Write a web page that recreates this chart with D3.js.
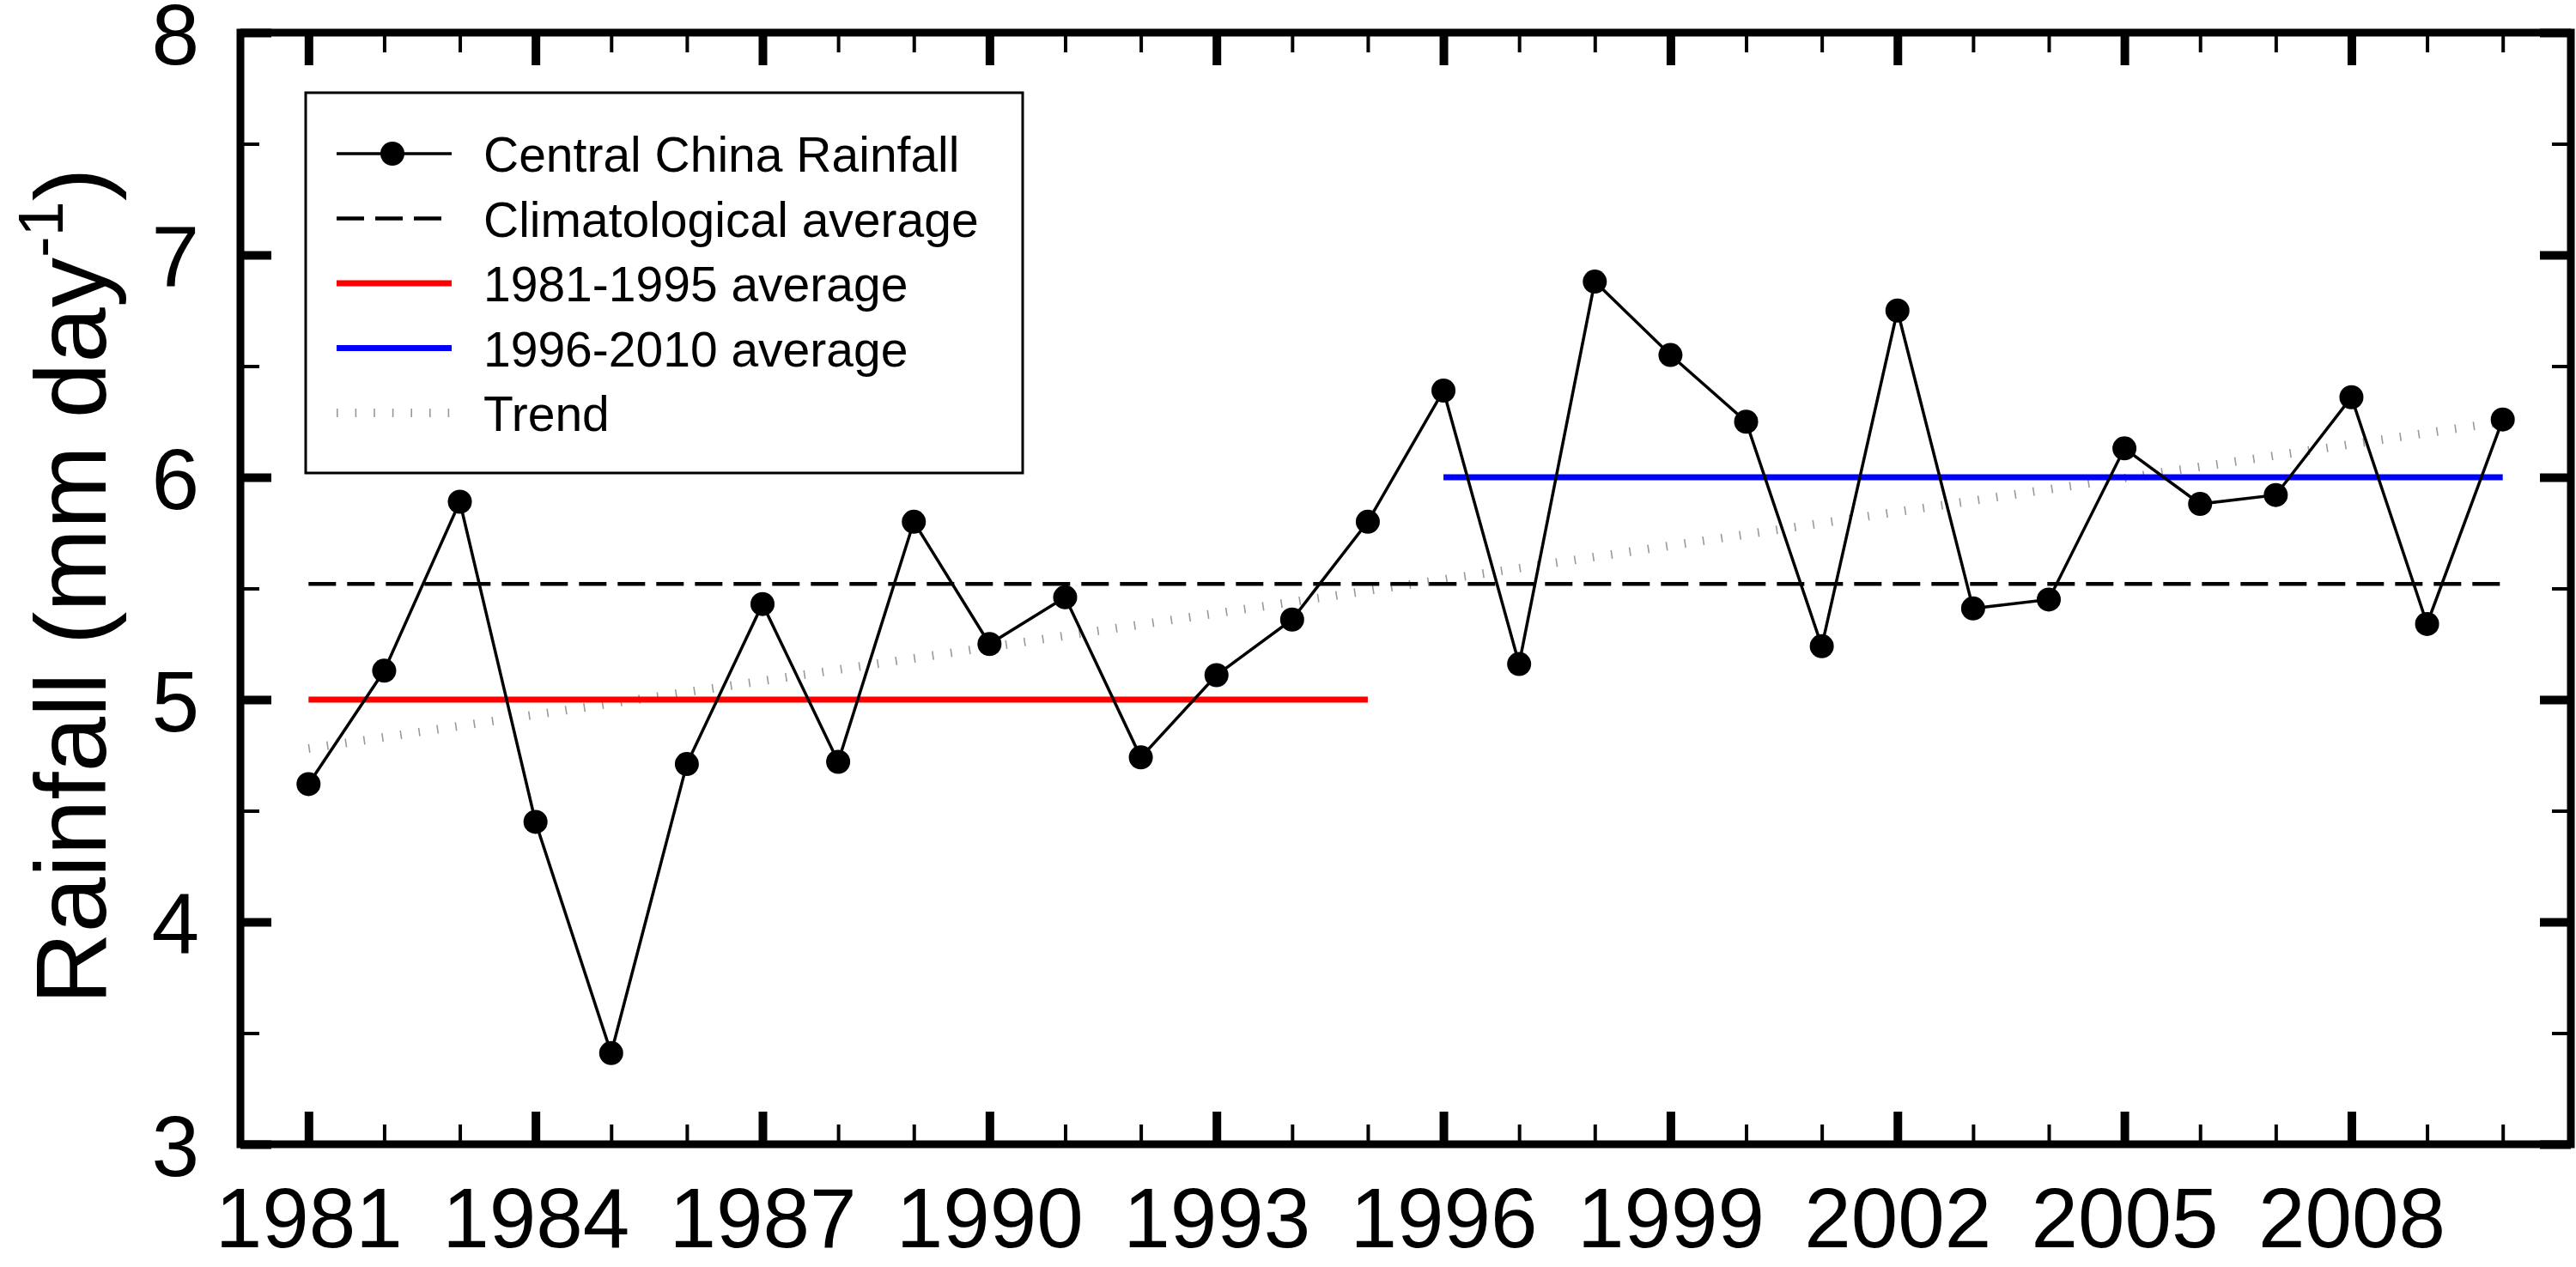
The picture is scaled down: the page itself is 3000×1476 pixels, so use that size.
<!DOCTYPE html>
<html>
<head>
<meta charset="utf-8">
<script src="https://cdn.jsdelivr.net/npm/d3@7"></script>
<style>
  body { margin: 0; background: #fff; }
  text { font-family: "Liberation Sans", Arial, sans-serif; fill: #000; }
</style>
</head>
<body>
<svg id="chart"></svg>
<script>
const YEARS = [1981, 1982, 1983, 1984, 1985, 1986, 1987, 1988, 1989, 1990,
    1991, 1992, 1993, 1994, 1995, 1996, 1997, 1998, 1999, 2000,
    2001, 2002, 2003, 2004, 2005, 2006, 2007, 2008, 2009, 2010];

const RAINFALL = [4.62, 5.13, 5.89, 4.45, 3.41, 4.71, 5.43, 4.72, 5.80, 5.25,
    5.46, 4.74, 5.11, 5.36, 5.80, 6.39, 5.16, 6.88, 6.55, 6.25,
    5.24, 6.75, 5.41, 5.45, 6.13, 5.88, 5.92, 6.36, 5.34, 6.26];

const CLIM_YEARS = [1981, 2010];
const CLIM_AVG = [5.52, 5.52];
const EARLY_YEARS = [1981, 1995];
const EARLY_AVG = [5.0, 5.0];
const LATE_YEARS = [1996, 2010];
const LATE_AVG = [6.0, 6.0];
const TREND_YEARS = [1981, 2010];
const TREND = [4.78, 6.25];

const X_LABELS = [1981, 1984, 1987, 1990, 1993, 1996, 1999, 2002, 2005, 2008];
const X_MINOR = [1982, 1983, 1985, 1986, 1988, 1989, 1991, 1992, 1994, 1995,
    1997, 1998, 2000, 2001, 2003, 2004, 2006, 2007, 2009, 2010];
const Y_LABELS = [3, 4, 5, 6, 7, 8];
const Y_MINOR = [3.5, 4.5, 5.5, 6.5, 7.5];

const LEGEND = [
    { key: 'rain', label: 'Central China Rainfall' },
    { key: 'clim', label: 'Climatological average' },
    { key: 'early', label: '1981-1995 average' },
    { key: 'late', label: '1996-2010 average' },
    { key: 'trend', label: 'Trend' }
];

const WIDTH = 3000;
const HEIGHT = 1476;
const PLOT = { left: 280, right: 2994, top: 38, bottom: 1333 };

const svg = d3.select('#chart')
    .attr('width', WIDTH)
    .attr('height', HEIGHT);

const x = d3.scaleLinear().domain([1980.1, 2010.9]).range([PLOT.left, PLOT.right]);
const y = d3.scaleLinear().domain([3, 8]).range([PLOT.bottom, PLOT.top]);

// tick marks point into the plot on all four sides
function tickAxis(axis, values, size, width, transform) {
    const g = svg.append('g')
        .attr('transform', transform)
        .call(axis.tickValues(values).tickSize(size).tickFormat(''));
    g.select('.domain').remove();
    g.selectAll('.tick line').attr('stroke', '#000').attr('stroke-width', width);
}

tickAxis(d3.axisTop(x), X_LABELS, 38, 10, `translate(0,${PLOT.bottom})`);
tickAxis(d3.axisTop(x), X_MINOR, 23, 4, `translate(0,${PLOT.bottom})`);
tickAxis(d3.axisBottom(x), X_LABELS, 38, 10, `translate(0,${PLOT.top})`);
tickAxis(d3.axisBottom(x), X_MINOR, 23, 4, `translate(0,${PLOT.top})`);
tickAxis(d3.axisRight(y), Y_LABELS, 36, 10, `translate(${PLOT.left},0)`);
tickAxis(d3.axisRight(y), Y_MINOR, 22, 4, `translate(${PLOT.left},0)`);
tickAxis(d3.axisLeft(y), Y_LABELS, 36, 10, `translate(${PLOT.right},0)`);
tickAxis(d3.axisLeft(y), Y_MINOR, 22, 4, `translate(${PLOT.right},0)`);

// tick labels
const xLab = svg.append('g')
    .attr('transform', `translate(0,${PLOT.bottom})`)
    .call(d3.axisBottom(x).tickValues(X_LABELS).tickSize(0).tickPadding(50).tickFormat(d3.format('d')));
xLab.select('.domain').remove();
xLab.selectAll('text').attr('font-size', 98).attr('font-family', null);

const yLab = svg.append('g')
    .attr('transform', `translate(${PLOT.left},0)`)
    .call(d3.axisLeft(y).tickValues(Y_LABELS).tickSize(0).tickPadding(48).tickFormat(d3.format('d')));
yLab.select('.domain').remove();
yLab.selectAll('text').attr('font-size', 100).attr('font-family', null).attr('dy', '0.36em');

// frame
svg.append('rect')
    .attr('x', PLOT.left)
    .attr('y', PLOT.top)
    .attr('width', PLOT.right - PLOT.left)
    .attr('height', PLOT.bottom - PLOT.top)
    .attr('fill', 'none')
    .attr('stroke', '#000')
    .attr('stroke-width', 9);

// y title
const title = svg.append('text')
    .attr('transform', 'translate(123,683) rotate(-90)')
    .attr('text-anchor', 'middle')
    .attr('font-size', 116);
title.append('tspan').text('Rainfall (mm day');
title.append('tspan').attr('font-size', 74).attr('dy', -50).text('-1');
title.append('tspan').attr('dy', 50).text(')');

const line = d3.line().x(d => x(d[0])).y(d => y(d[1]));

const STYLES = {
    rain: { stroke: '#000', width: 3.5, dash: null },
    clim: { stroke: '#000', width: 4.5, dash: '32 13' },
    early: { stroke: '#ff0000', width: 7, dash: null },
    late: { stroke: '#0000ff', width: 7, dash: null },
    trend: { stroke: '#999', width: 10, dash: '1.6 20' }
};

function drawLine(years, values, key) {
    const s = STYLES[key];
    svg.append('path')
        .datum(d3.zip(years, values))
        .attr('d', line)
        .attr('fill', 'none')
        .attr('stroke', s.stroke)
        .attr('stroke-width', s.width)
        .attr('stroke-dasharray', s.dash);
}

drawLine(TREND_YEARS, TREND, 'trend');
drawLine(CLIM_YEARS, CLIM_AVG, 'clim');
drawLine(EARLY_YEARS, EARLY_AVG, 'early');
drawLine(LATE_YEARS, LATE_AVG, 'late');
drawLine(YEARS, RAINFALL, 'rain');

svg.selectAll('.dot')
    .data(d3.zip(YEARS, RAINFALL))
    .enter()
    .append('circle')
    .classed('dot', true)
    .attr('cx', d => x(d[0]))
    .attr('cy', d => y(d[1]))
    .attr('r', 14)
    .attr('fill', '#000');

// legend
const legend = svg.append('g');
legend.append('rect')
    .attr('x', 356)
    .attr('y', 108)
    .attr('width', 835)
    .attr('height', 443)
    .attr('fill', '#fff')
    .attr('stroke', '#000')
    .attr('stroke-width', 3);

const rows = legend.selectAll('.row')
    .data(LEGEND)
    .enter()
    .append('g')
    .classed('row', true)
    .attr('transform', (d, i) => `translate(0,${179 + i * 75.5})`);

rows.append('line')
    .attr('x1', 392)
    .attr('x2', 526)
    .attr('stroke', d => STYLES[d.key].stroke)
    .attr('stroke-width', d => STYLES[d.key].width)
    .attr('stroke-dasharray', d => STYLES[d.key].dash);

rows.filter(d => d.key === 'rain')
    .append('circle')
    .attr('cx', 457)
    .attr('r', 14)
    .attr('fill', '#000');

rows.append('text')
    .attr('x', 563)
    .attr('y', 21)
    .attr('font-size', 57)
    .text(d => d.label);
</script>
</body>
</html>
